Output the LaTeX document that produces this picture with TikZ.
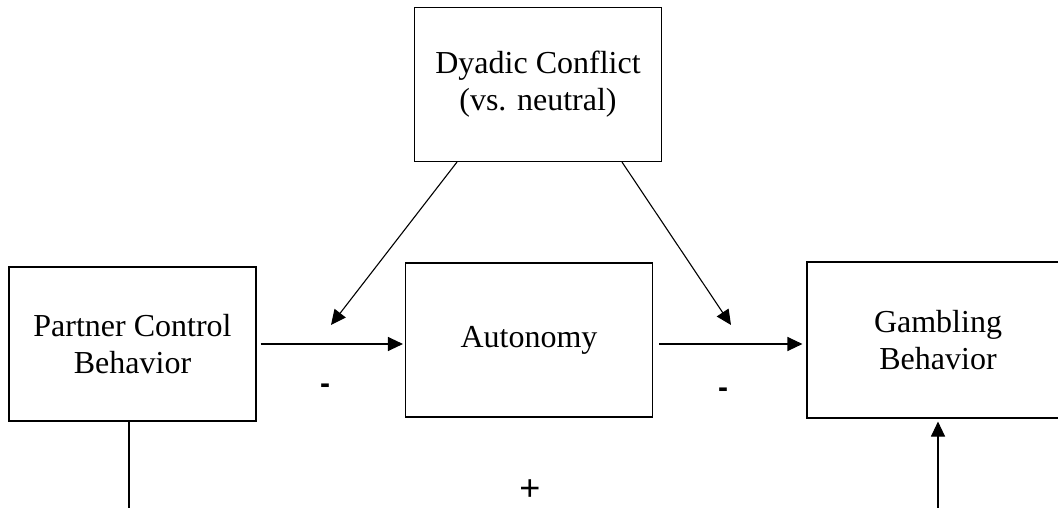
\documentclass[tikz,border=0pt]{standalone}
\usepackage{fontspec}
\setmainfont{Liberation Serif}
\newfontfamily\signfont{Liberation Sans}
\usetikzlibrary{arrows.meta, positioning}

\begin{document}
\begin{tikzpicture}[
    x=1pt, y=-1pt,
    box/.style={rectangle, draw=black, line width=1.1pt, minimum width=247pt, minimum height=154pt, align=center, inner sep=0pt, font=\fontsize{32}{37}\selectfont},
    sign/.style={font=\signfont\fontsize{36}{36}\selectfont},
    minus/.style={font=\signfont\bfseries\fontsize{30}{30}\selectfont},
    arr/.style={line width=1.1pt, -{Triangle[length=15pt, width=14pt]}},
    link/.style={line width=1.1pt}
  ]
    \useasboundingbox (0,0) rectangle (1058,508);
    \clip (0,0) rectangle (1058,508);

    % --- Boxes ---
    \node[box] (conflict) at (538,84.5) {Dyadic Conflict\\(vs. neutral)};
    \node[box] (control) at (132.5,344) {Partner Control\\Behavior};
    \node[box] (autonomy) at (529,340) {Autonomy};
    \node[box, minimum width=262pt, minimum height=156pt] (gambling) at (938,340) {Gambling\\Behavior};

    % --- Free ends ---
    \coordinate (mod1) at (331,325);
    \coordinate (mod2) at (731,325);
    \coordinate (cbot) at (129,508);
    \coordinate (gbot) at (938,508);

    % --- Arrows ---
    \draw[arr, shorten <=4pt, shorten >=2pt] (control.east) -- (control.east -| autonomy.west);
    \draw[arr, shorten <=6pt, shorten >=4pt] (control.east -| autonomy.east) -- (control.east -| gambling.west);
    \draw[arr] ([xshift=-81pt]conflict.south) -- (mod1);
    \draw[arr] ([xshift=84pt]conflict.south) -- (mod2);
    \draw[link] ([xshift=-3.5pt]control.south) -- (cbot);
    \draw[arr, shorten >=3pt] (gbot) -- (gambling.south);

    % --- Signs ---
    \node[minus] (s1) at (325,389) {-};
    \node[minus] (s2) at (723,393) {-};
    \node[sign] (s3) at (530,490) {+};

  \end{tikzpicture}
\end{document}
